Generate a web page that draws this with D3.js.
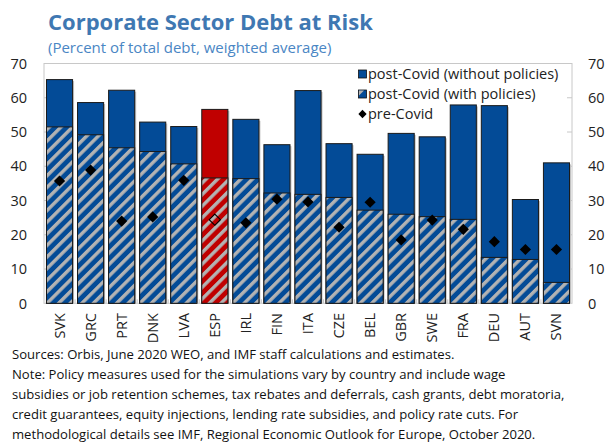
<!DOCTYPE html>
<html>
<head>
<meta charset="utf-8">
<script src="https://cdn.jsdelivr.net/npm/d3@7/dist/d3.min.js"></script>
<style>
  html, body { margin: 0; padding: 0; background: #fff; }
  svg { display: block; font-family: "Open Sans", "Noto Sans", sans-serif; }
</style>
</head>
<body>
<svg id="chart" width="610" height="443"></svg>
<script>
// Corporate debt at risk by country (percent of total debt, weighted average)
const countries = ["SVK","GRC","PRT","DNK","LVA","ESP","IRL","FIN","ITA","CZE","BEL","GBR","SWE","FRA","DEU","AUT","SVN"];
const postCovidNoPolicy = [65.3, 58.6, 62.2, 52.9, 51.6, 56.6, 53.7, 46.3, 62.1, 46.6, 43.5, 49.6, 48.6, 57.9, 57.7, 30.3, 41.0];
const postCovidWithPolicy = [51.5, 49.2, 45.4, 44.3, 40.7, 36.6, 36.4, 32.2, 31.8, 30.9, 27.2, 26.0, 25.3, 24.5, 13.4, 12.8, 6.1];
const preCovid = [35.7, 38.9, 24.0, 25.2, 35.9, 24.4, 23.5, 30.4, 29.6, 22.2, 29.5, 18.5, 24.3, 21.6, 18.0, 15.7, 15.7];
const highlighted = "ESP";
const yTicks = [0, 10, 20, 30, 40, 50, 60, 70];
const legendLabels = ["post-Covid (without policies)", "post-Covid (with policies)", "pre-Covid"];
const titleText = "Corporate Sector Debt at Risk";
const subtitleText = "(Percent of total debt, weighted average)";
const noteLines = [
  "Sources: Orbis, June 2020 WEO, and IMF staff calculations and estimates.",
  "Note: Policy measures used for the simulations vary by country and include wage",
  "subsidies or job retention schemes, tax rebates and deferrals, cash grants, debt moratoria,",
  "credit guarantees, equity injections, lending rate subsidies, and policy rate cuts. For",
  "methodological details see IMF, Regional Economic Outlook for Europe, October 2020."
];

const BLUE = "#034b97", RED = "#c00000", STRIPE = "#b3b3b3", FRAME = "#c8c8c8";

const data = countries.map((c, i) => ({
  country: c,
  noPolicy: postCovidNoPolicy[i],
  withPolicy: postCovidWithPolicy[i],
  pre: preCovid[i]
}));

const svg = d3.select("#chart");
const plot = { left: 44, right: 572, top: 63.5, bottom: 303.3 };

const x = d3.scaleBand().domain(countries).range([plot.left, plot.right]).paddingInner(0.16).paddingOuter(0.08);
const y = d3.scaleLinear().domain([0, 70]).range([plot.bottom, plot.top]);

// hatch patterns: diagonal grey stripes over blue / red
const defs = svg.append("defs");
[["hatchBlue", BLUE], ["hatchRed", RED]].forEach(([id, base]) => {
  const p = defs.append("pattern").attr("id", id).attr("patternUnits", "userSpaceOnUse")
    .attr("width", 8.2).attr("height", 8).attr("patternTransform", "rotate(45)");
  p.append("rect").attr("width", 8.2).attr("height", 8).attr("fill", base);
  p.append("rect").attr("width", 3.4).attr("height", 8).attr("fill", STRIPE);
});

// title
svg.append("text").attr("x", 48).attr("y", 30).attr("fill", "#3f78b2")
  .attr("font-size", 22).attr("font-weight", 700).text(titleText);
svg.append("text").attr("x", 48).attr("y", 53).attr("fill", "#4a86c4")
  .attr("font-size", 15).text(subtitleText);

// frame
svg.append("rect").attr("x", plot.left).attr("y", plot.top)
  .attr("width", plot.right - plot.left).attr("height", plot.bottom - plot.top)
  .attr("fill", "none").attr("stroke", FRAME).attr("stroke-width", 1);

// inward ticks on both vertical axes
const tickG = svg.append("g").attr("stroke", FRAME).attr("stroke-width", 1);
yTicks.slice(1, -1).forEach(t => {
  tickG.append("line").attr("x1", plot.left).attr("x2", plot.left + 5).attr("y1", y(t)).attr("y2", y(t));
  tickG.append("line").attr("x1", plot.right - 5).attr("x2", plot.right).attr("y1", y(t)).attr("y2", y(t));
});
// small ticks between categories on the baseline
countries.slice(1).forEach(c => {
  const bx = x(c) - (x.step() - x.bandwidth()) / 2;
  tickG.append("line").attr("x1", bx).attr("x2", bx).attr("y1", plot.bottom).attr("y2", plot.bottom - 4);
});

// y labels, left and right
const labG = svg.append("g").attr("font-size", 14.5).attr("fill", "#222");
yTicks.forEach(t => {
  labG.append("text").attr("x", 27).attr("y", y(t)).attr("dy", "0.36em").attr("text-anchor", "end").text(t);
  labG.append("text").attr("x", 588).attr("y", y(t)).attr("dy", "0.36em").attr("text-anchor", "start").text(t);
});

// legend
const lg = svg.append("g").attr("font-size", 14.5).attr("fill", "#222");
const ly = [74, 94, 114];
lg.append("rect").attr("x", 358.5).attr("y", ly[0] - 4).attr("width", 8).attr("height", 8)
  .attr("fill", BLUE).attr("stroke", "#111").attr("stroke-width", 0.8);
lg.append("rect").attr("x", 358.5).attr("y", ly[1] - 4).attr("width", 8).attr("height", 8)
  .attr("fill", BLUE).attr("stroke", "#111").attr("stroke-width", 0.8);
lg.append("path").attr("d", `M359,${ly[1] - 3.6}h5l-5,5z`).attr("fill", STRIPE);
lg.append("path").attr("d", d3.symbol(d3.symbolDiamond2, 44)()).attr("transform", `translate(362.5,${ly[2]})`).attr("fill", "#000");
legendLabels.forEach((l, i) => {
  lg.append("text").attr("x", 368).attr("y", ly[i]).attr("dy", "0.36em").text(l);
});

// bars
const bars = svg.append("g");
const g = bars.selectAll("g").data(data).join("g");
// faint shadow
g.append("rect")
  .attr("x", d => x(d.country) + 1.5).attr("y", d => y(d.noPolicy) + 1.5)
  .attr("width", x.bandwidth()).attr("height", d => y(0) - y(d.noPolicy) - 1.5)
  .attr("fill", "#c4c4c4");
g.append("rect")
  .attr("x", d => x(d.country)).attr("y", d => y(d.noPolicy))
  .attr("width", x.bandwidth()).attr("height", d => y(0) - y(d.noPolicy))
  .attr("fill", d => d.country === highlighted ? RED : BLUE)
  .attr("stroke", "#1a1a1a").attr("stroke-width", 1);
g.append("rect")
  .attr("x", d => x(d.country)).attr("y", d => y(d.withPolicy))
  .attr("width", x.bandwidth()).attr("height", d => y(0) - y(d.withPolicy))
  .attr("fill", d => d.country === highlighted ? "url(#hatchRed)" : "url(#hatchBlue)")
  .attr("stroke", "#1a1a1a").attr("stroke-width", 1);

// pre-Covid markers
const diamond = d3.symbol(d3.symbolDiamond2, 80)();
g.append("path").attr("d", diamond)
  .attr("transform", d => `translate(${x(d.country) + x.bandwidth() / 2},${y(d.pre)})`)
  .attr("fill", d => d.country === highlighted ? "none" : "#000")
  .attr("stroke", "#000").attr("stroke-width", d => d.country === highlighted ? 1.1 : 0);

// category labels, rotated
const xl = svg.append("g").attr("font-size", 14.5).attr("fill", "#222");
countries.forEach(c => {
  const cx = x(c) + x.bandwidth() / 2;
  xl.append("text").attr("transform", `translate(${cx + 5},313) rotate(-90)`)
    .attr("text-anchor", "end").text(c);
});

// source and note
const nt = svg.append("g").attr("font-size", 13.1).attr("fill", "#111");
noteLines.forEach((l, i) => {
  nt.append("text").attr("x", 12).attr("y", 354 + i * 20).attr("dy", "0.36em").text(l);
});
</script>
</body>
</html>
